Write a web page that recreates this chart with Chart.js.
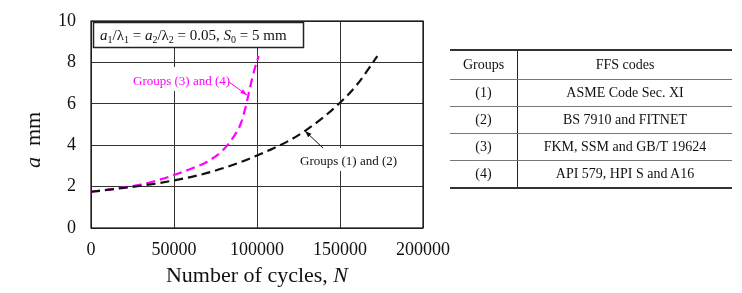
<!DOCTYPE html>
<html><head><meta charset="utf-8">
<script src="https://cdn.jsdelivr.net/npm/chart.js@4.4.0/dist/chart.umd.min.js"></script>
<style>
html,body{margin:0;padding:0;background:#fff;}
#wrap{position:relative;width:742px;height:293px;}
#cv{position:absolute;left:0;top:0;}
table{position:absolute;left:450px;top:49px;width:282px;border-collapse:collapse;font-family:"Liberation Serif",serif;font-size:14px;color:#111;}
td{text-align:center;padding:0;height:26px;border-bottom:1.5px solid #777;}
tr:first-child td{border-top:2px solid #333;height:28px;}
tr:last-child td{border-bottom:2px solid #333;}
td.g{width:67px;border-right:1.5px solid #222;}
</style></head><body>
<div id="wrap"><canvas id="cv" width="742" height="293"></canvas>
<table id="tb"></table></div>
<script>
const groupLabels=["Groups","(1)","(2)","(3)","(4)"];
const ffsCodes=["FFS codes","ASME Code Sec. XI","BS 7910 and FITNET","FKM, SSM and GB/T 19624","API 579, HPI S and A16"];
const nBlack=[0,10000,20000,30000,40000,50000,60000,70000,80000,90000,100000,110000,120000,130000,140000,150000,160000,172500];
const aBlack=[1.75,1.84,1.94,2.04,2.16,2.3,2.46,2.66,2.9,3.18,3.5,3.85,4.25,4.75,5.35,6.05,6.9,8.3];
const nMag=[0,10000,20000,30000,40000,50000,60000,70000,80000,85000,90000,93000,95000,97000,99000,101000];
const aMag=[1.75,1.85,1.96,2.1,2.3,2.56,2.85,3.2,3.8,4.3,5.0,5.8,6.5,7.2,7.8,8.3];
const xTicks=[0,50000,100000,150000,200000];
const yTicks=[0,2,4,6,8,10];

const tb=document.getElementById('tb');
groupLabels.forEach((g,i)=>{const tr=document.createElement('tr');tr.innerHTML='<td class="g">'+g+'</td><td>'+ffsCodes[i]+'</td>';tb.appendChild(tr);});

const F='"Liberation Serif", serif';
function rich(ctx,x,y,segs){let cx=x;segs.forEach(s=>{ctx.font=(s.i?'italic ':'')+s.sz+'px '+F;ctx.fillText(s.t,cx,y+(s.dy||0));cx+=ctx.measureText(s.t).width;});}
function arrow(ctx,x1,y1,x2,y2,col){ctx.strokeStyle=col;ctx.fillStyle=col;ctx.lineWidth=1;ctx.setLineDash([]);ctx.beginPath();ctx.moveTo(x1,y1);ctx.lineTo(x2,y2);ctx.stroke();const a=Math.atan2(y2-y1,x2-x1),L=7,w=0.35;ctx.beginPath();ctx.moveTo(x2,y2);ctx.lineTo(x2-L*Math.cos(a-w),y2-L*Math.sin(a-w));ctx.lineTo(x2-L*Math.cos(a+w),y2-L*Math.sin(a+w));ctx.closePath();ctx.fill();}

const bg={id:'bg',beforeDatasetsDraw(c){const ctx=c.ctx;ctx.save();ctx.fillStyle='#fff';ctx.fillRect(131,67,101,24);ctx.fillRect(298,148,102,23);ctx.restore();}};

const deco={id:'deco',afterDraw(c){const ctx=c.ctx,ca=c.chartArea;ctx.save();
ctx.strokeStyle='#111';ctx.lineWidth=1.2;ctx.setLineDash([]);ctx.strokeRect(ca.left,ca.top,ca.right-ca.left,ca.bottom-ca.top);
ctx.fillStyle='#fff';ctx.fillRect(93,22,210,25);ctx.strokeStyle='#222';ctx.lineWidth=1.5;ctx.strokeRect(93.5,22.5,210,25);
ctx.fillStyle='#111';ctx.textBaseline='alphabetic';ctx.textAlign='left';
rich(ctx,100,40,[{t:'a',i:1,sz:15},{t:'1',sz:10,dy:3},{t:'/λ',sz:15},{t:'1',sz:10,dy:3},{t:' = ',sz:15},{t:'a',i:1,sz:15},{t:'2',sz:10,dy:3},{t:'/λ',sz:15},{t:'2',sz:10,dy:3},{t:' = 0.05, ',sz:15},{t:'S',i:1,sz:15},{t:'0',sz:10,dy:3},{t:' = 5 mm',sz:15}]);
ctx.font='13px '+F;ctx.fillStyle='#ff00ff';ctx.fillText('Groups (3) and (4)',133,85);
arrow(ctx,229,82,247,95,'#ff00ff');
ctx.fillStyle='#111';ctx.font='13px '+F;ctx.fillText('Groups (1) and (2)',300,165);
arrow(ctx,323,148,305,131,'#111');
ctx.fillStyle='#111';ctx.textAlign='left';
ctx.font='22px '+F;const w1=ctx.measureText('Number of cycles, ').width;ctx.font='italic 22px '+F;const w2=ctx.measureText('N').width;
const sx=(ca.left+ca.right)/2-(w1+w2)/2;
rich(ctx,sx,282,[{t:'Number of cycles, ',sz:22},{t:'N',i:1,sz:22}]);
ctx.translate(40,140);ctx.rotate(-Math.PI/2);
ctx.font='italic 22px '+F;const v1=ctx.measureText('a').width;ctx.font='22px '+F;const v2=ctx.measureText('  mm').width;
rich(ctx,-(v1+v2)/2,0,[{t:'a',i:1,sz:22},{t:'  mm',sz:22}]);
ctx.restore();}};

new Chart(document.getElementById('cv'),{type:'scatter',
data:{datasets:[
{label:'Groups (1) and (2)',data:nBlack.map((n,i)=>({x:n,y:aBlack[i]})),showLine:true,borderColor:'#111',borderWidth:2.2,borderDash:[9,5],pointRadius:0,cubicInterpolationMode:'monotone',order:0},
{label:'Groups (3) and (4)',data:nMag.map((n,i)=>({x:n,y:aMag[i]})),showLine:true,borderColor:'#ff00ff',borderWidth:2.2,borderDash:[9,5],pointRadius:0,cubicInterpolationMode:'monotone',order:1}
]},
options:{responsive:false,animation:false,devicePixelRatio:1,
layout:{padding:{left:0,top:21,right:319,bottom:0}},
plugins:{legend:{display:false},tooltip:{enabled:false}},
scales:{
x:{type:'linear',min:0,max:200000,afterBuildTicks:s=>{s.ticks=xTicks.map(v=>({value:v}));},
 afterFit:s=>{s.height=65;s.paddingLeft=0;s.paddingRight=0;},
 grid:{color:'#333',lineWidth:1,drawTicks:false},border:{display:false},
 ticks:{padding:11,maxRotation:0,autoSkip:false,color:'#111',font:{family:F,size:18},callback:v=>String(v)}},
y:{min:0,max:10,afterBuildTicks:s=>{s.ticks=yTicks.map(v=>({value:v}));},
 afterFit:s=>{s.width=91;s.paddingTop=0;s.paddingBottom=0;},
 grid:{color:'#333',lineWidth:1,drawTicks:false},border:{display:false},
 ticks:{padding:15,color:'#111',font:{family:F,size:18}}}
}},plugins:[bg,deco]});
</script></body></html>
